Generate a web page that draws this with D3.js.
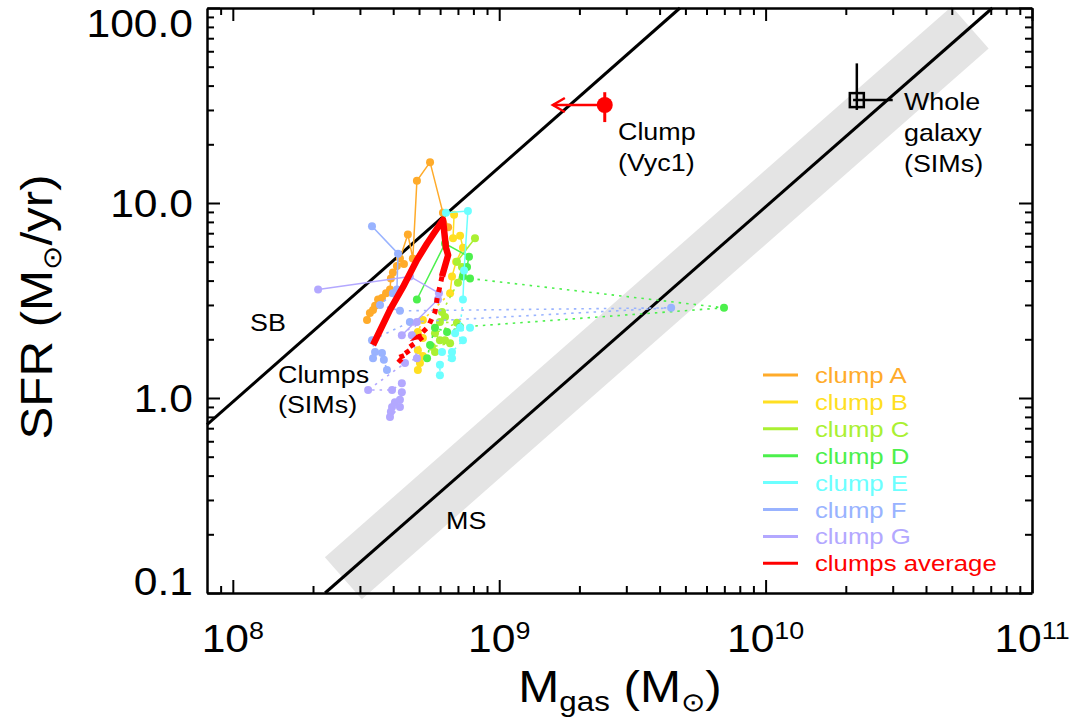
<!DOCTYPE html>
<html>
<head>
<meta charset="utf-8">
<script src="https://cdn.jsdelivr.net/npm/d3@7"></script>
<style>
body { margin: 0; background: #fff; }
text { font-family: "Liberation Sans", Arial, Helvetica, sans-serif; }
</style>
</head>
<body>
<script>
// axis ticks
var xTicks = [1e8, 1e9, 1e10, 1e11];
var xTickExp = ["8", "9", "10", "11"];
var yTicks = [0.1, 1, 10, 100];
var yTickLabels = ["0.1", "1.0", "10.0", "100.0"];

// reference relations [Mgas, SFR]
var sbLine = [[8e7, 0.73], [4.77e9, 100]];
var msLine = [[2.22e8, 0.1], [7.1e10, 100]];
var msBand = [[2.6e8, 0.119], [5.86e10, 79.5]];

// simulated clumps: Mgas in 1e8 Msun, SFR in Msun/yr
var clumpNames = ["clump A", "clump B", "clump C", "clump D", "clump E", "clump F", "clump G"];
var clumpColors = ["#ffab2a", "#ffdf22", "#aaf032", "#4cf04c", "#6cffff", "#99b3ff", "#b3a8ff"];

var clumpA = [[3.19,2.51],[3.27,2.73],[3.36,2.83],[3.42,2.97],[3.51,3.2],[3.63,3.26],[3.76,3.45],[3.89,3.6],[3.92,4.1],[3.99,4.4],[4.13,4.75],[4.39,4.86],[4.24,5.2],[4.54,6.9],[4.74,5.2],[4.91,13.0],[5.50,16.2],[6.15,8.9],[6.43,7.5]];
var clumpADot = [];
var clumpB = [[6.77,8.7],[6.71,6.6],[7.13,6.8],[7.31,5.9],[6.89,5.0],[6.65,4.2],[6.54,3.45]];
var clumpBDot = [[5.17,2.51],[4.95,2.18],[5.17,2.03],[4.95,1.76],[5.17,1.64],[5.04,1.51],[4.95,1.39]];
var clumpC = [[8.11,6.6],[6.94,5.0],[7.25,4.7],[7.00,3.9]];
var clumpCDot = [[6.10,2.76],[6.26,2.6],[5.99,2.45],[6.94,2.43],[5.74,2.15],[5.99,1.98],[6.26,1.98],[6.54,1.91],[5.59,1.83],[5.74,1.72]];
var clumpD = [[4.91,3.2],[6.26,6.2],[7.70,5.3],[7.57,4.7],[7.31,4.2],[7.77,4.1]];
var clumpDDot = [[69.8,2.9],[7.13,2.31],[6.37,2.18],[5.74,2.29],[5.50,1.87],[5.36,1.60]];
var clumpE = [[6.31,8.9],[7.63,9.1],[7.38,4.5],[7.31,3.2]];
var clumpEDot = [[7.13,2.29],[7.77,2.29],[6.83,2.15],[7.31,1.98],[6.65,1.72],[6.10,1.72],[6.65,1.60],[5.99,1.48],[5.99,1.31]];
var clumpF = [[3.33,7.6],[4.17,5.5],[4.13,3.6]];
var clumpFDot = [[3.99,3.45],[3.57,3.0],[4.24,2.8],[44.2,2.9],[4.62,2.45],[3.33,1.98],[3.42,1.72],[3.36,1.60],[3.63,1.70],[3.69,1.57],[3.79,1.39]];
var clumpG = [[2.09,3.6],[4.62,4.2],[5.94,3.45],[5.89,3.2],[4.31,2.10]];
var clumpGDot = [[4.91,2.45],[4.70,2.10],[4.91,1.60],[4.43,1.51],[3.22,1.10],[3.96,1.10],[4.31,1.19],[4.31,1.07],[4.24,0.98],[4.06,0.95],[3.96,0.90],[3.92,0.85],[3.89,0.80],[4.24,0.90]];

var clumpsAvg = [[3.36,1.87],[3.89,2.83],[4.35,3.7],[4.91,5.1],[5.36,6.2],[6.15,8.2],[6.31,5.9],[6.43,5.4],[6.10,4.2]];
var clumpsAvgDash = [[5.84,3.2],[5.74,2.76],[5.40,2.31],[4.95,2.06],[5.26,2.10],[4.83,1.91],[4.54,1.80],[4.62,1.76],[4.24,1.62],[4.43,1.66],[4.06,1.46]];

// observed clump Vyc1 and the whole galaxy
var vycPoint = [2.49e9, 31.8];
var vycSfrErr = [26, 37];
var vycMgasLimit = 1.59e9;
var galaxyPoint = [2.2e10, 33.7];
var galaxySfrErr = [30, 52];
var galaxyMgasErr = [2.13e10, 3.0e10];

var SX = 1.12; // horizontal stretch of the lettering

setChart();

function setChart(){
    var width = 1075, height = 724;

    var svg = d3.select("body")
        .append("svg")
        .attr("width", width)
        .attr("height", height);

    var x = d3.scaleLog().domain([8e7, 1e11]).range([207, 1032]);
    var y = d3.scaleLog().domain([0.1, 100]).range([593, 8]);

    var line = d3.line()
        .x(function(d){ return x(d[0]); })
        .y(function(d){ return y(d[1]); });
    var line8 = d3.line()
        .x(function(d){ return x(d[0] * 1e8); })
        .y(function(d){ return y(d[1]); });

    //grey band round the main sequence
    svg.append("path")
        .datum(msBand)
        .attr("d", line)
        .attr("fill", "none")
        .attr("stroke", "#e4e4e4")
        .attr("stroke-width", 56);

    svg.append("path").datum(sbLine).attr("d", line)
        .attr("fill", "none").attr("stroke", "#000").attr("stroke-width", 3);
    svg.append("path").datum(msLine).attr("d", line)
        .attr("fill", "none").attr("stroke", "#000").attr("stroke-width", 3);

    //clump tracks
    var tracks = [[clumpA, clumpADot], [clumpB, clumpBDot], [clumpC, clumpCDot], [clumpD, clumpDDot],
        [clumpE, clumpEDot], [clumpF, clumpFDot], [clumpG, clumpGDot]];
    tracks.forEach(function(t, i){
        var col = clumpColors[i];
        var g = svg.append("g");
        g.append("path").datum(t[0]).attr("d", line8)
            .attr("fill", "none").attr("stroke", col).attr("stroke-width", 1.5);
        if (t[1].length){
            var dot = [t[0][t[0].length - 1]].concat(t[1]);
            g.append("path").datum(dot).attr("d", line8)
                .attr("fill", "none").attr("stroke", col).attr("stroke-width", 1.6)
                .attr("stroke-dasharray", "2.5,5");
        }
        g.selectAll("circle")
            .data(t[0].concat(t[1]))
            .enter()
            .append("circle")
            .attr("cx", function(d){ return x(d[0] * 1e8); })
            .attr("cy", function(d){ return y(d[1]); })
            .attr("r", 4)
            .attr("fill", col);
    });

    //clumps average
    svg.append("path").datum(clumpsAvg).attr("d", line8)
        .attr("fill", "none").attr("stroke", "#ff0000").attr("stroke-width", 6.5)
        .attr("stroke-linejoin", "round");
    svg.append("path").datum([clumpsAvg[clumpsAvg.length - 1]].concat(clumpsAvgDash)).attr("d", line8)
        .attr("fill", "none").attr("stroke", "#ff0000").attr("stroke-width", 5)
        .attr("stroke-dasharray", "5,6");

    //clump Vyc1
    var vx = x(vycPoint[0]), vy = y(vycPoint[1]), lx = x(vycMgasLimit);
    svg.append("line").attr("x1", vx).attr("x2", vx)
        .attr("y1", y(vycSfrErr[0])).attr("y2", y(vycSfrErr[1]))
        .attr("stroke", "#ff0000").attr("stroke-width", 3);
    svg.append("line").attr("x1", vx).attr("x2", lx).attr("y1", vy).attr("y2", vy)
        .attr("stroke", "#ff0000").attr("stroke-width", 2.5);
    svg.append("path")
        .attr("d", "M" + (lx + 12) + "," + (vy - 7) + "L" + lx + "," + vy + "L" + (lx + 12) + "," + (vy + 7))
        .attr("fill", "none").attr("stroke", "#ff0000").attr("stroke-width", 2.5);
    svg.append("circle").attr("cx", vx).attr("cy", vy).attr("r", 8).attr("fill", "#ff0000");

    //whole galaxy
    var gx = x(galaxyPoint[0]), gy = y(galaxyPoint[1]);
    svg.append("line").attr("x1", gx).attr("x2", gx)
        .attr("y1", y(galaxySfrErr[0])).attr("y2", y(galaxySfrErr[1]))
        .attr("stroke", "#000").attr("stroke-width", 2.5);
    svg.append("line").attr("x1", x(galaxyMgasErr[0])).attr("x2", x(galaxyMgasErr[1]))
        .attr("y1", gy).attr("y2", gy)
        .attr("stroke", "#000").attr("stroke-width", 2.5);
    svg.append("rect").attr("x", gx - 7).attr("y", gy - 7).attr("width", 14).attr("height", 14)
        .attr("fill", "none").attr("stroke", "#000").attr("stroke-width", 2.5);

    setAxes(svg, x, y);
    setLabels(svg, x, y);
    setLegend(svg);
}

function minorTicks(lo, hi){
    var out = [];
    for (var e = Math.floor(Math.log10(lo)); e < Math.log10(hi); e++){
        for (var k = 2; k <= 9; k++){
            var v = k * Math.pow(10, e);
            if (v > lo && v < hi) out.push(v);
        }
    }
    return out;
}

function setAxes(svg, x, y){
    var xMinor = minorTicks(8e7, 1e11), yMinor = minorTicks(0.1, 100);
    var specs = [
        [d3.axisBottom, x, xTicks, xMinor, "translate(0,593)"],
        [d3.axisTop, x, xTicks, xMinor, "translate(0,8)"],
        [d3.axisLeft, y, yTicks, yMinor, "translate(207,0)"],
        [d3.axisRight, y, yTicks, yMinor, "translate(1032,0)"]
    ];
    specs.forEach(function(s){
        var g = svg.append("g").attr("transform", s[4]);
        g.call(s[0](s[1]).tickValues(s[2]).tickSize(-13).tickSizeOuter(0).tickFormat(""));
        g.append("g").call(s[0](s[1]).tickValues(s[3]).tickSize(-7).tickSizeOuter(0).tickFormat(""))
            .select(".domain").remove();
        g.selectAll(".domain").attr("stroke", "#000").attr("stroke-width", 2.5);
        g.selectAll(".tick line").attr("stroke", "#000").attr("stroke-width", 2);
    });
}

function addText(g, px, py, str, size, anchor, fill){
    return g.append("text")
        .attr("transform", "translate(" + px + "," + py + ") scale(" + SX + ",1)")
        .attr("font-size", size)
        .attr("text-anchor", anchor || "start")
        .attr("fill", fill || "#000")
        .text(str);
}

function setLabels(svg, x, y){
    xTicks.forEach(function(v, i){
        var t = addText(svg, x(v), 652, "10", 38, "middle");
        t.append("tspan").attr("dy", -13).attr("font-size", 24).text(xTickExp[i]);
    });
    yTicks.forEach(function(v, i){
        var py = Math.min(Math.max(y(v) + 14, 37), 595);
        addText(svg, 193, py, yTickLabels[i], 38, "end");
    });

    //axis titles
    var xt = addText(svg, 620, 702, "M", 44, "middle");
    xt.append("tspan").attr("dy", 9).attr("font-size", 28).text("gas");
    xt.append("tspan").attr("dy", -9).text(" (M");
    xt.append("tspan").attr("dy", 9).attr("font-size", 26).text("\u2299");
    xt.append("tspan").attr("dy", -9).text(")");

    var yt = svg.append("text")
        .attr("transform", "translate(52,307) rotate(-90) scale(" + SX + ",1)")
        .attr("font-size", 44)
        .attr("text-anchor", "middle")
        .text("SFR (M");
    yt.append("tspan").attr("dy", 9).attr("font-size", 26).text("\u2299");
    yt.append("tspan").attr("dy", -9).text("/yr)");

    //annotations
    addText(svg, 250, 331, "SB", 24);
    addText(svg, 278, 383, "Clumps", 24);
    addText(svg, 278, 413, "(SIMs)", 24);
    addText(svg, 446, 529, "MS", 24);
    addText(svg, 618, 140, "Clump", 24);
    addText(svg, 618, 171, "(Vyc1)", 24);
    addText(svg, 904, 110, "Whole", 24);
    addText(svg, 904, 141, "galaxy", 24);
    addText(svg, 904, 172, "(SIMs)", 24);
}

function setLegend(svg){
    var names = clumpNames.concat(["clumps average"]);
    var cols = clumpColors.concat(["#ff0000"]);
    names.forEach(function(n, i){
        var ly = 375 + i * 26.9;
        svg.append("line").attr("x1", 763).attr("x2", 798).attr("y1", ly).attr("y2", ly)
            .attr("stroke", cols[i]).attr("stroke-width", 3);
        addText(svg, 815, ly + 8, n, 23, "start", cols[i]);
    });
}
</script>
</body>
</html>
